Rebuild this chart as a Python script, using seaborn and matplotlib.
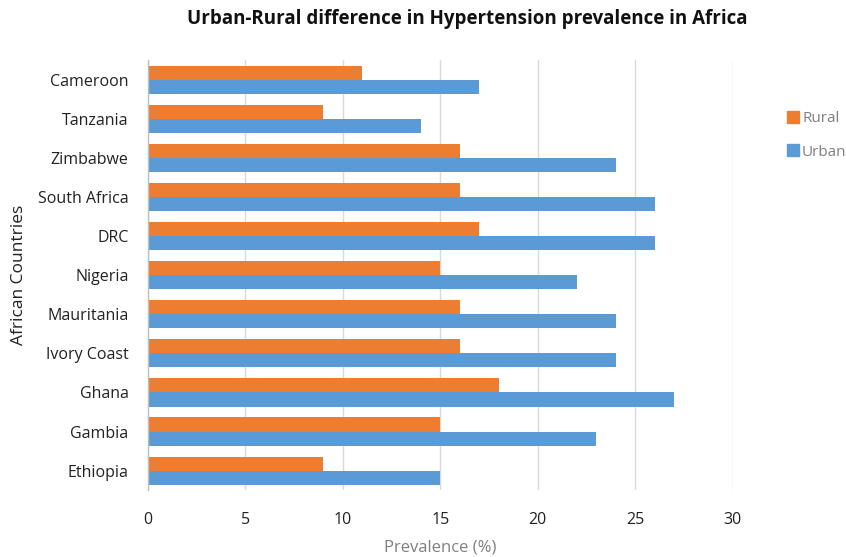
import matplotlib
matplotlib.use("Agg")
import matplotlib.pyplot as plt
import seaborn as sns
import pandas as pd
from matplotlib.lines import Line2D

countries = ["Cameroon", "Tanzania", "Zimbabwe", "South Africa", "DRC", "Nigeria",
             "Mauritania", "Ivory Coast", "Ghana", "Gambia", "Ethiopia"]
rural = [11, 9, 16, 16, 17, 15, 16, 16, 18, 15, 9]
urban = [17, 14, 24, 26, 26, 22, 24, 24, 27, 23, 15]
x_ticks = [0, 5, 10, 15, 20, 25, 30]

df = pd.DataFrame({
    "Country": countries * 2,
    "Area": ["Rural"] * len(countries) + ["Urban"] * len(countries),
    "Prevalence": rural + urban,
})

sns.set_theme(style="white")
plt.rcParams["font.family"] = ["Open Sans", "DejaVu Sans"]

palette = {"Rural": "#ED7D31", "Urban": "#5B9BD5"}

fig = plt.figure(figsize=(8.46, 5.57), dpi=100)
ax = fig.add_axes([0.175, 0.12, 0.691, 0.772])

sns.barplot(data=df, y="Country", x="Prevalence", hue="Area", order=countries,
            hue_order=["Rural", "Urban"], palette=palette, orient="h",
            width=0.72, saturation=1, linewidth=0, ax=ax, legend=False)

ax.set_xlim(0, 30)
ax.set_xticks(x_ticks)
ax.set_xticklabels([str(t) for t in x_ticks], fontsize=11.5, color="#222222")
ax.tick_params(axis="y", labelsize=11.5, labelcolor="#222222", length=0, pad=14)
ax.tick_params(axis="x", length=0, pad=16)
ax.xaxis.grid(True, color="#d9d9d9", linewidth=1)
ax.set_axisbelow(True)
for side in ["top", "right", "bottom"]:
    ax.spines[side].set_visible(False)
ax.spines["left"].set_color("#bfbfbf")
ax.spines["left"].set_linewidth(1)

ax.set_xlabel("Prevalence (%)", fontsize=12, color="#7f7f7f", labelpad=8)
ax.set_ylabel("African Countries", fontsize=12.5, color="#222222", labelpad=8)

fig.suptitle("Urban-Rural difference in Hypertension prevalence in Africa",
             fontsize=13.5, fontweight="bold", x=0.552, y=0.983, color="#111111")

handles = [Line2D([], [], marker="s", linestyle="", markersize=8,
                  markerfacecolor=palette[k], markeredgecolor=palette[k])
           for k in ["Rural", "Urban"]]
fig.legend(handles, ["Rural", "Urban"], loc="upper left",
           bbox_to_anchor=(0.912, 0.825), frameon=False, fontsize=11,
           labelcolor="#7f7f7f", handletextpad=0.1, labelspacing=1.2,
           handlelength=1.0)

fig.savefig("out.png", dpi=100)
